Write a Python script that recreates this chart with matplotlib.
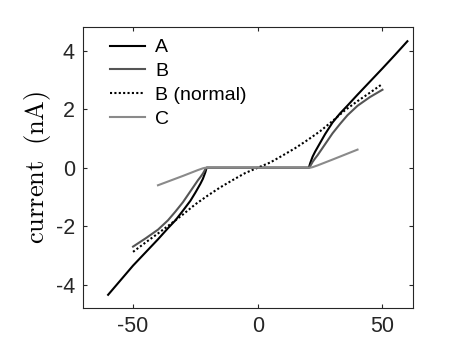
import numpy as np
import matplotlib.pyplot as plt

plt.rcParams['mathtext.fontset'] = 'cm'
plt.rcParams['axes.unicode_minus'] = False

# curve values (voltage in mV, current in nA)
x_A = [-60, -55, -50, -45, -40, -36, -33, -30, -27, -25, -23, -22, -21, -20.5,
       20.5, 21, 22, 23, 25, 27, 30, 33, 36, 40, 45, 50, 55, 60]
y_A = [-4.35, -3.85, -3.35, -2.9, -2.45, -2.07, -1.8, -1.47, -1.13, -0.85, -0.55, -0.38, -0.15, 0.0,
       0.0, 0.15, 0.38, 0.55, 0.85, 1.15, 1.55, 1.86, 2.13, 2.5, 2.95, 3.4, 3.86, 4.33]

x_B = [-50, -45, -40, -36, -33, -30, -28, -26, -24, -23, -22, -21, -20.5,
       20.5, 21, 22, 23, 24, 26, 28, 30, 33, 36, 40, 45, 50]
y_B = [-2.7, -2.42, -2.12, -1.8, -1.5, -1.18, -0.93, -0.68, -0.43, -0.32, -0.2, -0.05, 0.0,
       0.0, 0.05, 0.2, 0.32, 0.43, 0.68, 0.93, 1.18, 1.5, 1.8, 2.12, 2.42, 2.67]

x_Bn = [-50, -45, -40, -35, -30, -25, -20, -15, -10, -5, 0, 5, 10, 15, 20, 25, 30, 35, 40, 45, 50]
y_Bn = [-2.88, -2.56, -2.25, -1.93, -1.6, -1.25, -0.95, -0.67, -0.42, -0.18, 0.0,
        0.18, 0.42, 0.67, 0.95, 1.25, 1.6, 1.97, 2.28, 2.57, 2.87]

x_C = [-40, -30, -24, -22, -21, -20.5, 20.5, 21, 22, 24, 30, 40]
y_C = [-0.6, -0.28, -0.08, -0.02, 0.0, 0.0, 0.0, 0.0, 0.02, 0.08, 0.28, 0.62]

fig = plt.figure(figsize=(4.57, 3.64), dpi=100)
ax = fig.add_axes([0.182, 0.154, 0.722, 0.772])

ax.plot(x_A, y_A, color='black', lw=1.5, label='A')
ax.plot(x_B, y_B, color='#555555', lw=1.5, label='B')
ax.plot(x_Bn, y_Bn, color='black', lw=1.5, linestyle=(0, (1, 1.1)), label='B (normal)')
ax.plot(x_C, y_C, color='#8a8a8a', lw=1.5, label='C')

ax.set_xlim(-70, 62.3)
ax.set_ylim(-4.8, 4.82)
ax.set_xticks([-50, 0, 50])
ax.set_yticks([-4, -2, 0, 2, 4])
ax.tick_params(direction='in', length=3, width=0.8, top=True, right=True,
               colors='#262626', labelsize=15.5, pad=6)
for lab in ax.get_xticklabels() + ax.get_yticklabels():
    lab.set_fontfamily('Liberation Sans')
for sp in ax.spines.values():
    sp.set_color('#262626')
    sp.set_linewidth(0.8)

ax.set_ylabel(r'$\mathrm{current\ \ (nA)}$', fontsize=19, labelpad=2)

leg = ax.legend(loc='upper left', bbox_to_anchor=(0.082, 0.958), frameon=False,
                borderpad=0, borderaxespad=0, handlelength=1.8, handletextpad=0.5,
                labelspacing=0.32, prop={'family': 'Liberation Sans', 'size': 14})

fig.savefig('out.png', dpi=100)
